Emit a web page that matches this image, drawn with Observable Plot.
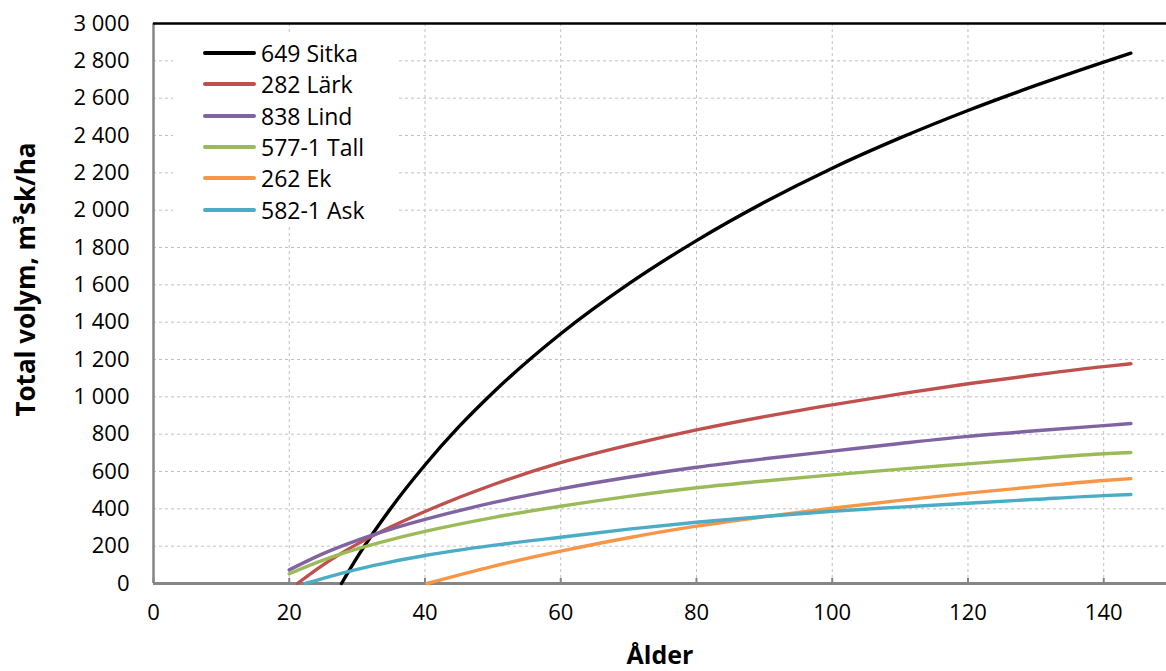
<!DOCTYPE html>
<html><head><meta charset="utf-8">
<script src="https://cdn.jsdelivr.net/npm/d3@7"></script>
<script src="https://cdn.jsdelivr.net/npm/@observablehq/plot@0.6"></script>
<style>
body{margin:0;background:#fff;overflow:hidden}
#wrap{position:relative;width:1166px;height:671px;font-family:"Open Sans",sans-serif}
#legend{position:absolute;left:173px;top:33px;width:225px;height:192px;background:#fff}
.item{position:absolute;left:30px;height:30px;display:flex;align-items:center;white-space:nowrap}
.sw{width:53px;height:4px;border-radius:2px;margin-right:5px}
.lab{font-size:23px;color:#000;line-height:30px}
</style></head><body><div id="wrap"></div>
<script>
const seriesNames = ["649 Sitka","282 Lärk","838 Lind","577-1 Tall","262 Ek","582-1 Ask"];
const seriesColors = ["#000000","#c0504d","#8064a2","#9bbb59","#f79646","#4bacc6"];

const sitkaAge = [27.7,30,35,40,45,50,60,70,80,90,100,110,120,130,140,144];
const sitkaVol = [0,140,405,635,840,1022,1338,1605,1837,2042,2225,2387,2534,2668,2793,2841];

const larkAge = [21.2,25,30,35,40,50,60,70,80,90,100,110,120,130,140,144];
const larkVol = [0,100,211,304,386,529,647,741,823,894,957,1016,1070,1118,1162,1177];

const lindAge = [20,25,30,35,40,50,60,70,80,90,100,110,120,130,140,144];
const lindVol = [73,160,231,291,343,433,507,569,623,668,709,750,788,818,846,857];

const tallAge = [20,25,30,35,40,50,60,70,80,90,100,110,120,130,140,144];
const tallVol = [52,125,185,235,279,353,414,467,513,549,582,613,641,669,695,702];

const ekAge = [40.3,50,60,70,80,90,100,110,120,130,140,144];
const ekVol = [0,92,173,245,307,358,403,445,484,519,552,562];

const askAge = [22.4,25,30,35,40,50,60,70,80,90,100,110,120,130,140,144];
const askVol = [0,28,76,116,150,204,248,291,328,359,387,409,430,451,471,477];

const yTicks = d3.range(0, 3001, 200);
const xTicks = d3.range(0, 141, 20);
const yTitle = "Total volym, m³sk/ha";
const xTitle = "Ålder";

const seriesAges = [sitkaAge, larkAge, lindAge, tallAge, ekAge, askAge];
const seriesVols = [sitkaVol, larkVol, lindVol, tallVol, ekVol, askVol];
const rows = [];
seriesNames.forEach((name, i) => {
  seriesAges[i].forEach((a, j) => rows.push({name, age: a, vol: seriesVols[i][j]}));
});

const fmt = d3.formatLocale({thousands: " ", grouping: [3], decimal: ","}).format(",d");
const gridStyle = {stroke: "#c0c0c0", strokeOpacity: 1, strokeDasharray: "3,3", strokeWidth: 1};

const chart = Plot.plot({
  width: 1166, height: 671,
  marginLeft: 153, marginRight: 0, marginTop: 23, marginBottom: 88,
  style: {fontFamily: "'Open Sans', sans-serif", background: "white", color: "black"},
  x: {domain: [0, 149.25]},
  y: {domain: [0, 3000]},
  color: {domain: seriesNames, range: seriesColors},
  marks: [
    Plot.gridX(xTicks, gridStyle),
    Plot.gridY(yTicks, gridStyle),
    Plot.axisY(yTicks, {tickSize: 0, tickPadding: 24, tickFormat: fmt, fontSize: 22, label: null}),
    Plot.axisX(xTicks, {tickSize: 0, tickPadding: 21, fontSize: 22, label: null}),
    Plot.axisX(xTicks, {tickSize: -5, fill: "none", stroke: "#868686", strokeWidth: 2, label: null}),
    Plot.ruleX([0], {stroke: "#868686", strokeWidth: 2.5}),
    Plot.ruleY([0], {stroke: "#868686", strokeWidth: 3}),
    Plot.ruleY([3000], {stroke: "#000", strokeWidth: 2.5}),
    Plot.line(rows, {x: "age", y: "vol", z: "name", stroke: "name", strokeWidth: 3.4, curve: "monotone-x"}),
    Plot.text([yTitle], {frameAnchor: "left", textAnchor: "middle", dx: -127, dy: -24, rotate: -90, fontSize: 26, fontWeight: "bold"}),
    Plot.text([xTitle], {frameAnchor: "bottom", textAnchor: "middle", dy: 80, fontSize: 25, fontWeight: "bold"})
  ]
});
const wrap = document.getElementById("wrap");
wrap.appendChild(chart);

const legend = document.createElement("div");
legend.id = "legend";
seriesNames.forEach((name, i) => {
  const it = document.createElement("div");
  it.className = "item";
  it.style.top = (5 + i * 31.3) + "px";
  const sw = document.createElement("div");
  sw.className = "sw";
  sw.style.background = seriesColors[i];
  const lab = document.createElement("span");
  lab.className = "lab";
  lab.textContent = name;
  it.appendChild(sw); it.appendChild(lab);
  legend.appendChild(it);
});
wrap.appendChild(legend);
</script></body></html>
